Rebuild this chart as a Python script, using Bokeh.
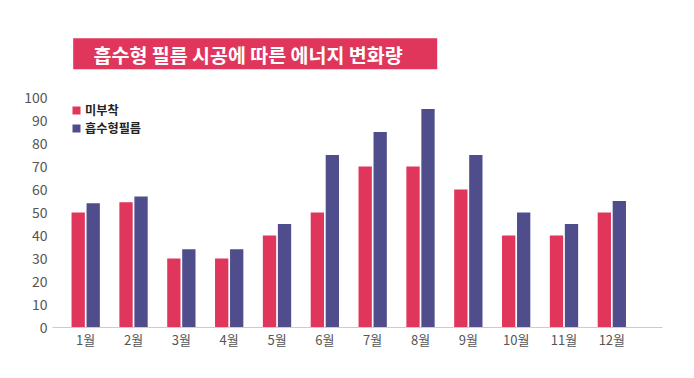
from bokeh.plotting import figure
from bokeh.models import (ColumnDataSource, Range1d, FixedTicker, Legend, LegendItem,
                          BoxAnnotation, Label)
from bokeh.transform import dodge
from bokeh.embed import file_html
from bokeh.resources import INLINE

months = ["1월", "2월", "3월", "4월", "5월", "6월", "7월", "8월", "9월", "10월", "11월", "12월"]
series_names = ["미부착", "흡수형필름"]
no_film = [50, 54.5, 30, 30, 40, 50, 70, 70, 60, 40, 40, 50]
film = [54, 57, 34, 34, 45, 75, 85, 95, 75, 50, 45, 55]
y_ticks = [0, 10, 20, 30, 40, 50, 60, 70, 80, 90, 100]
title_text = "흡수형 필름 시공에 따른 에너지 변화량"

RED = "#e1365b"
BLUE = "#4f4d8c"
KR = "Noto Sans CJK KR"

src = ColumnDataSource(dict(x=list(range(len(months))), a=no_film, b=film))

W, H = 678, 362
top_b, bot_b, left_b, right_b = 18, 35, 52, 16
frame_h = H - top_b - bot_b
px_per_unit = 2.3
y_end = frame_h / px_per_unit

X0_PX, STEP_PX = 85.2, 47.83
p = figure(width=W, height=H, output_backend="svg", toolbar_location=None,
           x_range=Range1d((52 - X0_PX) / STEP_PX, (W - right_b - X0_PX) / STEP_PX),
           y_range=Range1d(0, y_end),
           min_border_top=top_b, min_border_bottom=bot_b,
           min_border_left=left_b, min_border_right=right_b)
p.outline_line_color = None
p.xgrid.visible = False
p.ygrid.visible = False

bw = 13.3 / STEP_PX
off = 7.5 / STEP_PX
r1 = p.vbar(x=dodge("x", -off), top="a", width=bw, source=src, fill_color=RED, line_color=None)
r2 = p.vbar(x=dodge("x", off), top="b", width=bw, source=src, fill_color=BLUE, line_color=None)

# axes
p.xaxis.ticker = FixedTicker(ticks=list(range(len(months))))
p.xaxis.major_label_overrides = {i: m for i, m in enumerate(months)}
p.xaxis.axis_line_color = "#cccccc"
p.xaxis.major_tick_line_color = None
p.xaxis.minor_tick_line_color = None
p.xaxis.major_tick_out = 0
p.xaxis.major_label_standoff = 2
p.xaxis.major_label_text_font = KR
p.xaxis.major_label_text_font_size = "13px"
p.xaxis.major_label_text_color = "#555555"

p.yaxis.ticker = FixedTicker(ticks=y_ticks)
p.yaxis.axis_line_color = None
p.yaxis.major_tick_line_color = None
p.yaxis.minor_tick_line_color = None
p.yaxis.major_tick_out = 0
p.yaxis.major_label_standoff = 5
p.yaxis.major_label_text_font = KR
p.yaxis.major_label_text_font_size = "14px"
p.yaxis.major_label_text_color = "#555555"

# title band (layout positions in screen pixels converted to data units)
x0 = lambda px: (px - X0_PX) / STEP_PX
y0 = lambda py: (327.5 - py) / px_per_unit
p.add_layout(BoxAnnotation(left=x0(72.7), right=x0(436.7), bottom=y0(69.3), top=y0(38.3),
                           fill_color=RED, fill_alpha=1.0, line_color=None))
p.add_layout(Label(x=x0(93), y=y0(54), text=title_text, text_color="white",
                   text_font=KR, text_font_size="19.5px", text_font_style="bold",
                   text_baseline="middle", text_align="left"))

legend_style = dict(glyph_width=10, glyph_height=10, label_height=10, padding=0, margin=0,
                    label_standoff=4, border_line_color=None, background_fill_alpha=0,
                    label_text_font=KR, label_text_font_size="12.2px",
                    label_text_font_style="bold", label_text_color="#222222")
for renderer, name, vy in [(r1, series_names[0], 208), (r2, series_names[1], 190)]:
    p.add_layout(Legend(items=[LegendItem(label=name, renderers=[renderer])],
                        location=(19, vy), **legend_style))

open("out.html", "w").write(file_html(p, INLINE))
